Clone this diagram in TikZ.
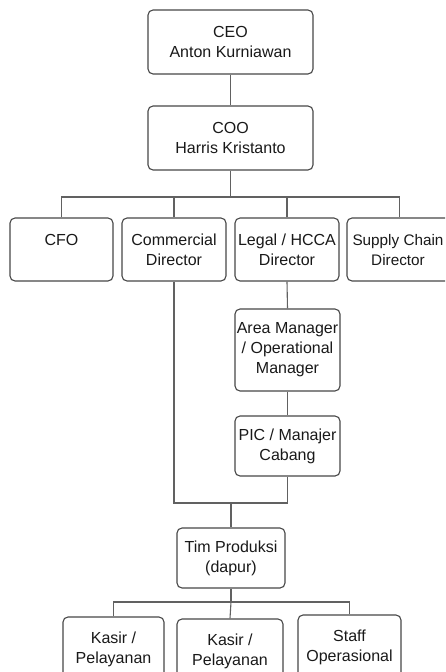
\documentclass[tikz,border=0pt]{standalone}
\usepackage{fontspec}
\setmainfont{Liberation Sans}
\begin{document}
\begin{tikzpicture}[x=1pt,y=-1pt,
  box/.style={draw=black!72, line width=1.1pt, rounded corners=5pt, fill=white,
    align=center, inner sep=0pt, font=\fontsize{16}{20}\selectfont, text=black!90},
  lbl/.style={align=center, inner sep=0pt, font=\fontsize{15.3}{20}\selectfont, text=black!90},
  conn/.style={draw=black!62, line width=1.1pt}]
\clip (0,0) rectangle (445,672);
\fill[white] (0,0) rectangle (445,672);
% nodes
\node[box, minimum width=165pt, minimum height=64pt] (ceo) at (230.5,42) {CEO\\Anton Kurniawan};
\node[box, minimum width=165pt, minimum height=64pt] (coo) at (230.5,138) {COO\\Harris Kristanto};
\node[box, minimum width=103pt, minimum height=63pt] (cfo) at (61.5,249.5) {CFO\\\mbox{}};
\node[box, minimum width=104pt, minimum height=63pt] (comm) at (174,249.5) {Commercial\\Director};
\node[box, minimum width=104pt, minimum height=63pt] (legal) at (287,249.5) {Legal / HCCA\\Director};
\node[box, minimum width=105pt, minimum height=63pt] (supply) at (399.5,249.5) {};
\node[lbl] (supplytext) at (398,250.5) {Supply Chain\\Director};
\node[box, minimum width=105pt, minimum height=82pt] (area) at (287.5,350) {Area Manager\\/ Operational\\Manager};
\node[box, minimum width=105pt, minimum height=60pt] (pic) at (287.5,446) {PIC / Manajer\\Cabang};
\node[box, minimum width=108pt, minimum height=60pt] (tim) at (231,558) {Tim Produksi\\(dapur)};
\node[box, minimum width=101pt, minimum height=64pt] (k1) at (113.5,649) {Kasir /\\Pelayanan};
\node[box, minimum width=106pt, minimum height=64pt] (k2) at (230,651) {Kasir /\\Pelayanan};
\node[box, minimum width=103pt, minimum height=64pt] (k3) at (349.5,647) {Staff\\Operasional};
% connectors
\coordinate (b1) at (230.5,197);
\coordinate (b2) at (231,503);
\coordinate (b3) at (231,602);
\draw[conn] (ceo.south) -- (coo.north);
\draw[conn] (coo.south) -- (b1);
\draw[conn] (cfo.north) |- (b1) -| (supply.north);
\draw[conn] (comm.north) -- (comm.north |- b1);
\draw[conn] (legal.north) -- (legal.north |- b1);
\draw[conn] (legal.south) -- (area.north);
\draw[conn] (area.south) -- (pic.north);
\draw[conn] (comm.south) |- (b2) -| (pic.south);
\draw[conn] (b2) -- (tim.north);
\draw[conn] (tim.south) -- (b3);
\draw[conn] (k1.north) |- (b3) -| (k3.north);
\draw[conn] (b3) -- (k2.north);
\end{tikzpicture}
\end{document}
